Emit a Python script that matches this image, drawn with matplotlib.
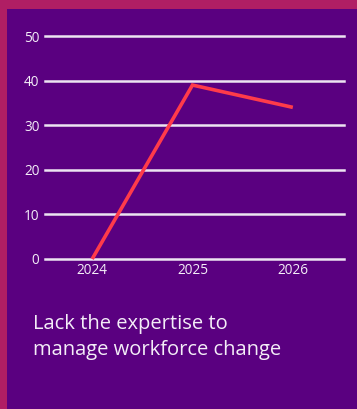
import matplotlib
matplotlib.use("Agg")
import matplotlib.pyplot as plt
from matplotlib.patches import Rectangle

years = ["2024", "2025", "2026"]
values = [0, 39, 34]
y_ticks = [0, 10, 20, 30, 40, 50]
caption_lines = ["Lack the expertise to", "manage workforce change"]

BG = "#5A0080"
FRAME = "#B01E64"
GRID = "#EDE4F2"
LINE = "#FF3B4A"
TEXT = "#F4EEF8"

plt.rcParams["font.family"] = ["Open Sans", "DejaVu Sans"]

fig = plt.figure(figsize=(3.57, 4.09), dpi=100)
fig.patch.set_facecolor(BG)

# framing strips along the top and left edges
fig.add_artist(Rectangle((0, 1 - 8.5 / 409), 1, 8.5 / 409, transform=fig.transFigure,
                         facecolor=FRAME, edgecolor="none", zorder=0))
fig.add_artist(Rectangle((0, 0), 7 / 357, 1, transform=fig.transFigure,
                         facecolor=FRAME, edgecolor="none", zorder=0))

ax = fig.add_axes([45 / 357, 1 - 259 / 409, (344 - 45) / 357, (259 - 36) / 409])
ax.set_facecolor(BG)
x = list(range(len(years)))

for t in y_ticks:
    ax.axhline(t, color=GRID, lw=1.8, zorder=1, clip_on=False)

ax.plot(x, values, color=LINE, lw=2.6, zorder=3, solid_joinstyle="miter",
        solid_capstyle="butt", clip_on=False)

ax.set_xlim(-0.47, 2.51)
ax.set_ylim(0, 50)
ax.set_xticks(x)
ax.set_xticklabels(years)
ax.set_yticks(y_ticks)
ax.tick_params(axis="both", length=0, colors=TEXT, labelsize=9.8)
ax.tick_params(axis="y", pad=4)
ax.tick_params(axis="x", pad=3)
for s in ax.spines.values():
    s.set_visible(False)

for line, base in zip(caption_lines, [329.5, 355.5]):
    fig.text(33 / 357, 1 - base / 409, line, color=TEXT, fontsize=14.5,
             ha="left", va="baseline")

fig.savefig("out.png", dpi=100, facecolor=BG)
